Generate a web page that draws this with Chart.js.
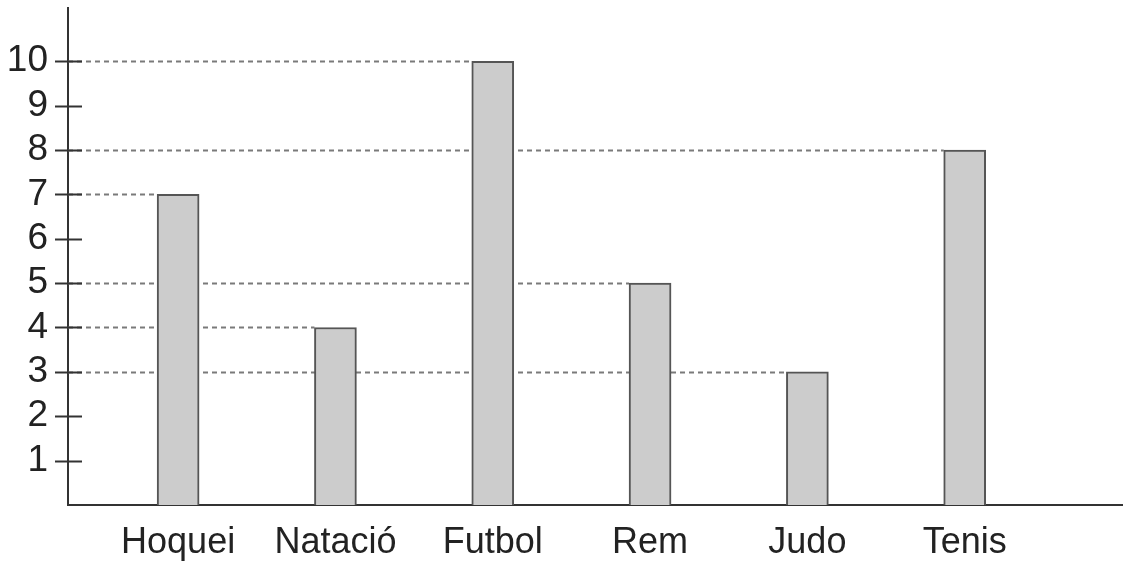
<!DOCTYPE html>
<html>
<head>
<meta charset="utf-8">
<script src="https://cdn.jsdelivr.net/npm/chart.js@4/dist/chart.umd.min.js"></script>
<style>
  body { margin: 0; background: #fff; }
  canvas { display: block; }
</style>
</head>
<body>
<canvas id="myChart" width="1137" height="561"></canvas>
<script>
var sports = ["Hoquei", "Natació", "Futbol", "Rem", "Judo", "Tenis"];
var positions = [1, 2, 3, 4, 5, 6];
var values = [7, 4, 10, 5, 3, 8];
var yTicks = [1, 2, 3, 4, 5, 6, 7, 8, 9, 10];

// dashed guide lines from the axis to each bar, plus tick crosses on the axis
var guides = {
    id: 'guides',
    beforeDatasetsDraw: function(chart) {
        var c = chart.ctx, area = chart.chartArea, ys = chart.scales.y;
        c.save();
        c.strokeStyle = '#7a7a7a';
        c.lineWidth = 2;
        c.setLineDash([5, 4]);
        chart.getDatasetMeta(0).data.forEach(function(bar) {
            var left = bar.x - bar.width / 2;
            c.beginPath();
            c.moveTo(area.left, Math.round(bar.y) + 0.5);
            c.lineTo(left, Math.round(bar.y) + 0.5);
            c.stroke();
        });
        c.setLineDash([]);
        c.strokeStyle = '#333';
        yTicks.forEach(function(t) {
            var y = Math.round(ys.getPixelForValue(t)) + 0.5;
            c.beginPath();
            c.moveTo(area.left - 13, y);
            c.lineTo(area.left + 14, y);
            c.stroke();
        });
        c.restore();
    }
};

var ctx = document.getElementById('myChart').getContext('2d');
var myChart = new Chart(ctx, {
    type: 'bar',
    data: {
        datasets: [{
            data: positions.map(function(p, i) { return {x: p, y: values[i]}; }),
            backgroundColor: "#cccccc",
            borderColor: "#555555",
            borderWidth: 2,
            borderSkipped: 'bottom',
            barThickness: 42
        }]
    },
    options: {
        responsive: false,
        animation: false,
        layout: { padding: { top: 0, right: 15, left: 0, bottom: 0 } },
        plugins: { legend: { display: false }, tooltip: { enabled: false } },
        scales: {
            x: {
                type: 'linear',
                offset: false,
                min: 0.3,
                max: 7.0,
                afterBuildTicks: function(s) { s.ticks = positions.map(function(p) { return {value: p}; }); },
                afterFit: function(s) { s.height = 56; },
                grid: { display: false },
                border: { display: true, color: '#333', width: 2 },
                ticks: {
                    padding: 8,
                    color: '#222',
                    font: { family: 'Liberation Sans', size: 36 },
                    maxRotation: 0,
                    autoSkip: false,
                    callback: function(v) { return sports[positions.indexOf(v)]; }
                }
            },
            y: {
                min: 0,
                max: 11.2,
                afterBuildTicks: function(s) { s.ticks = yTicks.map(function(t) { return {value: t}; }); },
                afterFit: function(s) { s.width = 68; s.paddingTop = 8; s.paddingBottom = 0; },
                grid: { display: false, drawTicks: false },
                border: { display: true, color: '#333', width: 2 },
                ticks: {
                    padding: 20,
                    color: '#222',
                    font: { family: 'Liberation Sans', size: 37 }
                }
            }
        }
    },
    plugins: [guides]
});
</script>
</body>
</html>
